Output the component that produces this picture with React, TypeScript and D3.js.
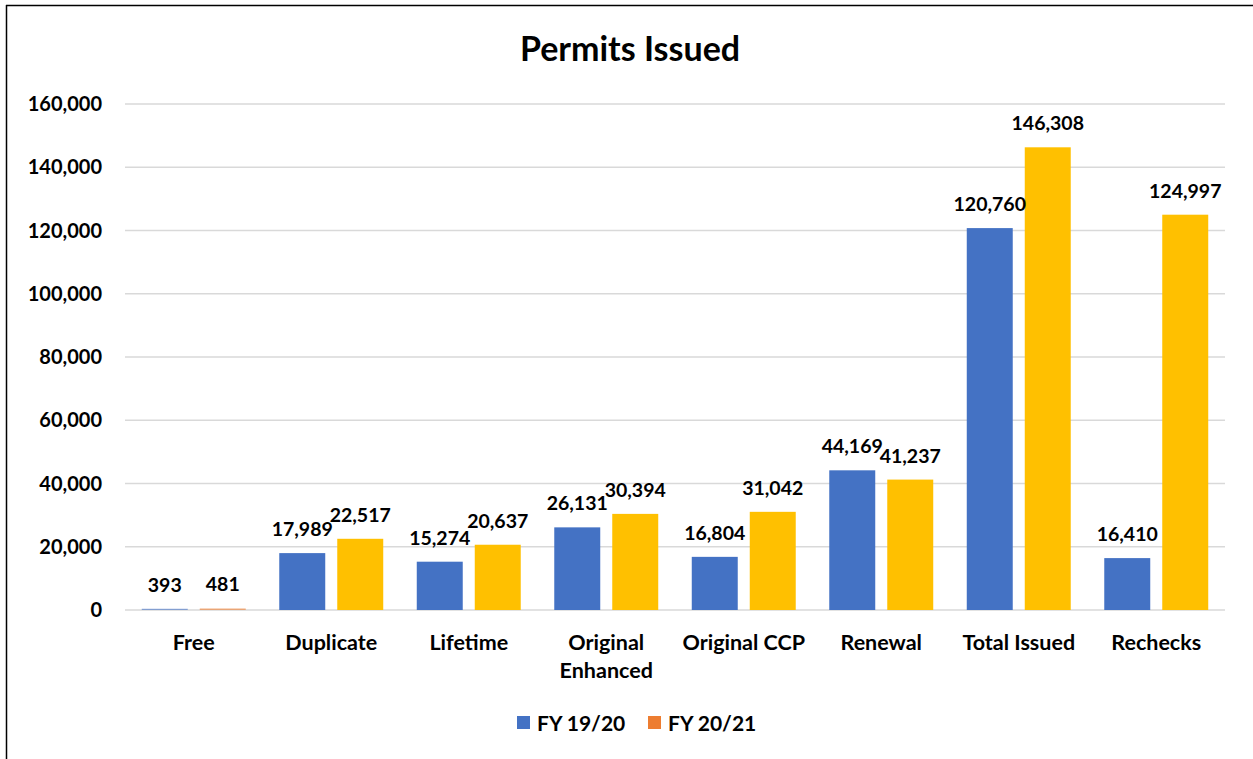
import { useEffect, useRef } from 'react'
import * as d3 from 'd3'

const categories = ['Free', 'Duplicate', 'Lifetime', 'Original Enhanced', 'Original CCP', 'Renewal', 'Total Issued', 'Rechecks']
const fy1920 = [393, 17989, 15274, 26131, 16804, 44169, 120760, 16410]
const fy2021 = [481, 22517, 20637, 30394, 31042, 41237, 146308, 124997]
const seriesNames = ['FY 19/20', 'FY 20/21']
const yTicks = [0, 20000, 40000, 60000, 80000, 100000, 120000, 140000, 160000]

const W = 1253
const H = 759
const M = { top: 104, right: 28, bottom: 149, left: 125 }
const IW = W - M.left - M.right
const IH = H - M.top - M.bottom
const FONT = 'Lato, "Open Sans", sans-serif'

const BLUE = '#4472C4'
const GOLD = '#FFC000'
const ORANGE = '#ED7D31'

export default function App() {
  const svgRef = useRef<SVGSVGElement>(null)

  useEffect(() => {
    const svg = d3.select(svgRef.current)
    svg.selectAll('*').remove()

    // frame (left + top edge visible)
    svg.append('line').attr('x1', 6.5).attr('x2', 6.5).attr('y1', 5).attr('y2', H)
      .attr('stroke', '#000').attr('stroke-width', 1.5)
    svg.append('line').attr('x1', 6).attr('x2', W).attr('y1', 5.5).attr('y2', 5.5)
      .attr('stroke', '#000').attr('stroke-width', 1.5)

    svg.append('text')
      .attr('x', 630).attr('y', 61)
      .attr('text-anchor', 'middle').attr('font-family', FONT)
      .attr('font-size', 34).attr('font-weight', 700).attr('fill', '#000')
      .text('Permits Issued')

    const g = svg.append('g').attr('transform', `translate(${M.left},${M.top})`)

    const x0 = d3.scaleBand().domain(categories).range([0, IW]).padding(0)
    const x1 = d3.scaleBand().domain(seriesNames).range([0, x0.bandwidth()])
      .paddingInner(0.207).paddingOuter(0.289)
    const y = d3.scaleLinear().domain([0, 160000]).range([IH, 0])

    // gridlines
    g.append('g').selectAll('line').data(yTicks).join('line')
      .attr('x1', 0).attr('x2', IW)
      .attr('y1', (d) => y(d)).attr('y2', (d) => y(d))
      .attr('stroke', '#d9d9d9').attr('stroke-width', 1.5)

    // y axis labels
    g.append('g').selectAll('text').data(yTicks).join('text')
      .attr('x', -23).attr('y', (d) => y(d)).attr('dy', '0.36em')
      .attr('text-anchor', 'end').attr('font-family', FONT)
      .attr('font-size', 20).attr('font-weight', 700).attr('fill', '#000')
      .text((d) => d3.format(',')(d))

    const fmt = d3.format(',')
    const rows = categories.map((c, i) => ({ c, vals: [fy1920[i], fy2021[i]] }))

    const grp = g.append('g').selectAll('g').data(rows).join('g')
      .attr('transform', (d) => `translate(${x0(d.c)},0)`)

    grp.selectAll('rect')
      .data((d, i) => d.vals.map((v, k) => ({ v, k, i })))
      .join('rect')
      .attr('x', (d) => x1(seriesNames[d.k]) as number)
      .attr('width', x1.bandwidth())
      .attr('y', (d) => y(d.v))
      .attr('height', (d) => Math.max(0.8, IH - y(d.v)))
      .attr('fill', (d) => (d.k === 0 ? BLUE : d.i === 0 ? ORANGE : GOLD))
      .attr('opacity', (d) => (d.i === 0 ? 0.6 : 1))

    grp.selectAll('text.val')
      .data((d) => d.vals.map((v, k) => ({ v, k })))
      .join('text')
      .attr('class', 'val')
      .attr('x', (d) => (x1(seriesNames[d.k]) as number) + x1.bandwidth() / 2)
      .attr('y', (d) => y(d.v) - 17)
      .attr('text-anchor', 'middle').attr('font-family', FONT)
      .attr('font-size', 19.5).attr('font-weight', 700).attr('fill', '#000')
      .text((d) => fmt(d.v))

    // x axis labels with wrapping
    const xl = g.append('g').selectAll('text').data(categories).join('text')
      .attr('x', (d) => (x0(d) as number) + x0.bandwidth() / 2)
      .attr('y', IH + 40)
      .attr('text-anchor', 'middle').attr('font-family', FONT)
      .attr('font-size', 21.5).attr('font-weight', 700).attr('fill', '#000')
    xl.each(function (d) {
      const t = d3.select(this)
      t.text(d)
      const node = this as SVGTextElement
      if (node.getComputedTextLength() > x0.bandwidth() - 4) {
        const words = d.split(' ')
        t.text(null)
        const cx = (x0(d) as number) + x0.bandwidth() / 2
        words.forEach((w, j) => {
          t.append('tspan').attr('x', cx).attr('dy', j === 0 ? 0 : 28).text(w)
        })
      }
    })

    // legend
    const leg = svg.append('g').attr('transform', `translate(517,723)`)
    const legItems = [
      { name: seriesNames[0], color: BLUE, x: 0 },
      { name: seriesNames[1], color: ORANGE, x: 131 },
    ]
    legItems.forEach((it) => {
      leg.append('rect').attr('x', it.x).attr('y', -7).attr('width', 13).attr('height', 13)
        .attr('fill', it.color)
      leg.append('text').attr('x', it.x + 20).attr('y', 0).attr('dy', '0.36em')
        .attr('font-family', FONT).attr('font-size', 21).attr('font-weight', 700)
        .attr('fill', '#000').text(it.name)
    })
  }, [])

  return (
    <svg ref={svgRef} width={W} height={H} viewBox={`0 0 ${W} ${H}`}
      style={{ position: 'absolute', left: 0, top: 0, background: '#fff' }} />
  )
}
